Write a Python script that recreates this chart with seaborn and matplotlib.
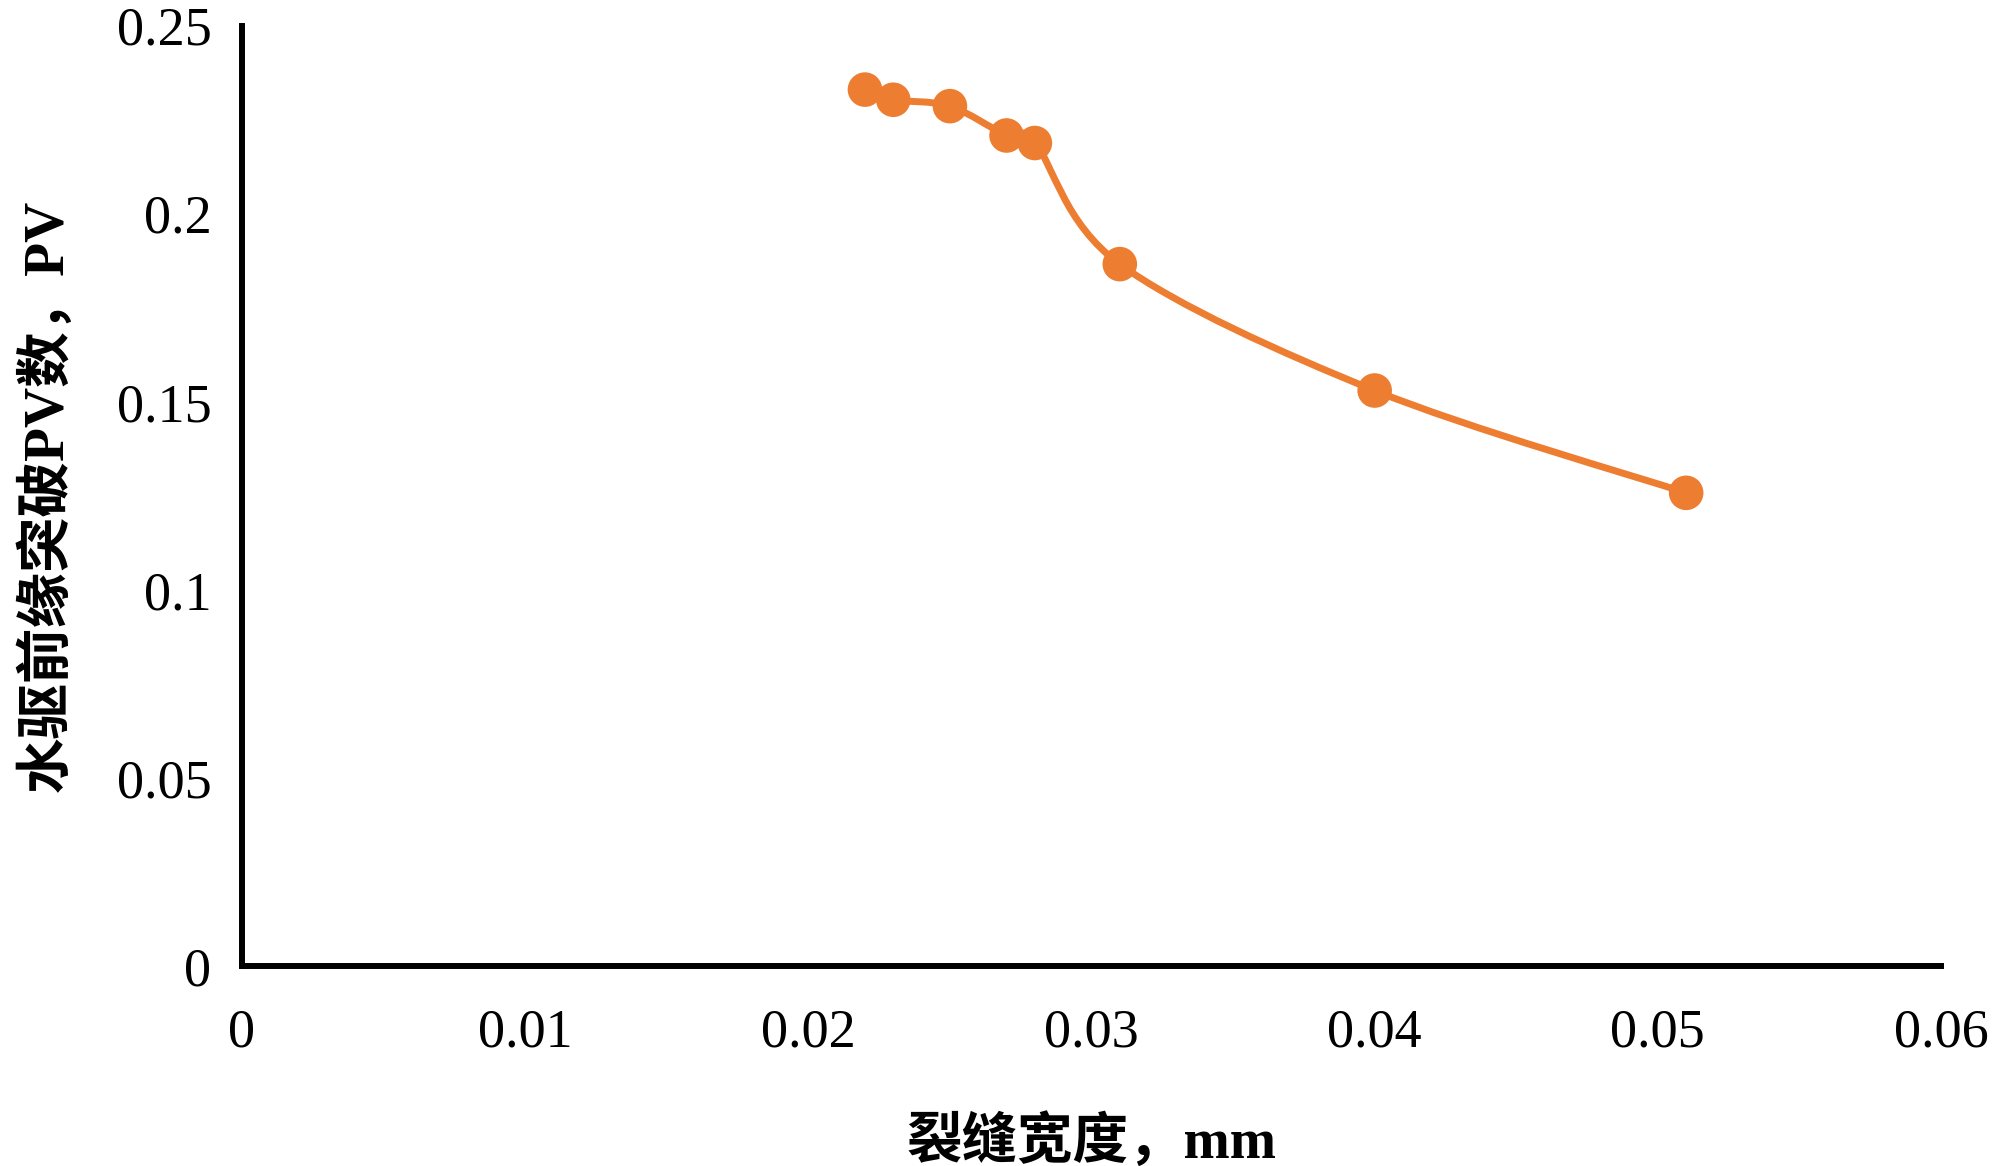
import numpy as np
import pandas as pd
import matplotlib
matplotlib.use("Agg")
import matplotlib.pyplot as plt
import seaborn as sns
from matplotlib.path import Path
from matplotlib.patches import PathPatch

# Data
fracture_width_mm = [0.022, 0.023, 0.025, 0.027, 0.028, 0.031, 0.040, 0.051]
breakthrough_pv = [0.2330, 0.2303, 0.2286, 0.2208, 0.2188, 0.1866, 0.1530, 0.1258]
x_ticks = [0, 0.01, 0.02, 0.03, 0.04, 0.05, 0.06]
x_tick_labels = ["0", "0.01", "0.02", "0.03", "0.04", "0.05", "0.06"]
y_ticks = [0, 0.05, 0.1, 0.15, 0.2, 0.25]
y_tick_labels = ["0", "0.05", "0.1", "0.15", "0.2", "0.25"]
x_label = "裂缝宽度，mm"
y_label = "水驱前缘突破PV数，PV"

ORANGE = "#ED7D31"

sns.set_theme(style="white")
plt.rcParams["font.family"] = ["Liberation Serif", "Noto Sans CJK SC", "DejaVu Sans"]

df = pd.DataFrame({"w": fracture_width_mm, "pv": breakthrough_pv})

fig = plt.figure(figsize=(20, 11.66), dpi=100)
ax = fig.add_axes([0.121, 0.1715, 0.8495, 0.8065])

# Smoothed line (Excel-style Bezier smoothing through the data points)
pts = np.column_stack([df["w"].values, df["pv"].values])
n = len(pts)
verts = [tuple(pts[0])]
codes = [Path.MOVETO]
for i in range(n - 1):
    p0 = pts[i - 1] if i > 0 else pts[i]
    p1 = pts[i]
    p2 = pts[i + 1]
    p3 = pts[i + 2] if i + 2 < n else pts[i + 1]
    c1 = p1 + (p2 - p0) / 6.0
    c2 = p2 - (p3 - p1) / 6.0
    verts += [tuple(c1), tuple(c2), tuple(p2)]
    codes += [Path.CURVE4] * 3
patch = PathPatch(Path(verts, codes), facecolor="none", edgecolor=ORANGE,
                  lw=5, transform=ax.transData, zorder=2, capstyle="round")
ax.add_patch(patch)

sns.scatterplot(data=df, x="w", y="pv", ax=ax, color=ORANGE, s=620,
                edgecolor="none", linewidth=0, zorder=3, legend=False)

ax.set_xlim(0, 0.06)
ax.set_ylim(0, 0.25)
ax.set_xticks(x_ticks)
ax.set_xticklabels(x_tick_labels)
ax.set_yticks(y_ticks)
ax.set_yticklabels(y_tick_labels)

for s in ["top", "right"]:
    ax.spines[s].set_visible(False)
for s in ["left", "bottom"]:
    ax.spines[s].set_visible(True)
    ax.spines[s].set_color("black")
    ax.spines[s].set_linewidth(4.3)
    ax.spines[s].set_capstyle("projecting")
ax.grid(False)

ax.tick_params(axis="both", direction="in", length=10, width=4.3, color="black",
               labelsize=39, labelcolor="black")
ax.tick_params(axis="x", pad=30)
ax.tick_params(axis="y", pad=22)

ax.set_xlabel(x_label, fontsize=40, fontweight="bold", labelpad=40, color="black")
ax.set_ylabel(y_label, fontsize=40, fontweight="bold", labelpad=30, color="black")

fig.savefig("out.png", dpi=100, facecolor="white")
